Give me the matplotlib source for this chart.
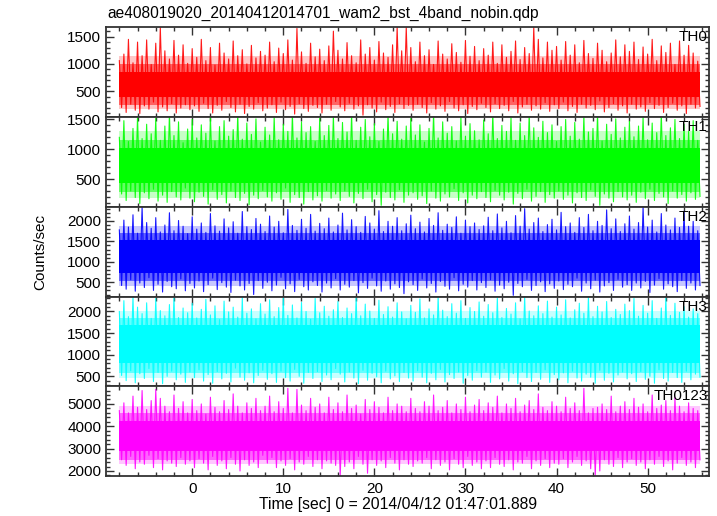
import numpy as np
import matplotlib
matplotlib.use("Agg")
import matplotlib.pyplot as plt
from matplotlib.ticker import MultipleLocator

plt.rcParams["font.family"] = ["Liberation Sans", "DejaVu Sans"]

# ---------------------------------------------------------------------------
# Data (0.5 s bins, upper / lower envelope)
# ---------------------------------------------------------------------------
TITLE = "ae408019020_20140412014701_wam2_bst_4band_nobin.qdp"
XLABEL = "Time [sec] 0 = 2014/04/12 01:47:01.889"
YLABEL = "Counts/sec"
T_START = -8.0
BIN = 0.5

labels = ["TH0", "TH1", "TH2", "TH3", "TH0123"]
colors = ["#ff0000", "#00ff00", "#0000ff", "#00ffff", "#ff00ff"]
ylims = [(25, 1670), (35, 1540), (150, 2345), (270, 2345), (1775, 5790)]
ymajor = [500, 500, 500, 500, 1000]
yminor = [100, 100, 100, 100, 200]
# solid part of the band, then the dense and the sparse part of the fringe
core = [(390, 860), (440, 1020), (720, 1530), (800, 1680), (2900, 4250)]
halo_in = [(250, 1000), (290, 1150), (520, 1700), (580, 1850), (2500, 4600)]
halo_out = [(170, 1150), (190, 1300), (400, 1880), (470, 2020), (2300, 4900)]

th0_hi = [
    1060, 1180, 1450, 1020, 1400, 1150, 1440, 990, 1380, 1670, 1240, 1090, 1430, 1160, 1350, 1010,
    1280, 1120, 1450, 1060, 1300, 980, 1380, 1200, 1090, 1420, 1150, 1260, 1000, 1340, 1110, 1230,
    1160, 1400, 1040, 1290, 1190, 1440, 1070, 1650, 1220, 1010, 1380, 1130, 1270, 1060, 1330, 1600,
    1250, 1090, 1390, 1150, 1020, 1440, 1180, 1300, 1070, 1410, 1200, 1120, 1350, 1670, 1240, 1670,
    1300, 1040, 1400, 1150, 1260, 990, 1420, 1180, 1090, 1370, 1210, 1030, 1430, 1140, 1320, 1060,
    1280, 1160, 1400, 1010, 1350, 1120, 1230, 1420, 1080, 1300, 1190, 1670, 1450, 1110, 1400, 1250,
    1320, 1070, 1410, 1160, 1350, 1020, 1430, 1190, 1100, 1380, 1250, 1040, 1200, 1440, 1130, 1350,
    1230, 1400, 1080, 1310, 1180, 1450, 1060, 1330, 1210, 1380, 990, 1420, 1160, 1340, 1200, 1050,
]
th0_lo = [
    200, 110, 260, 150, 90, 230, 170, 300, 120, 210, 140, 270, 100, 190, 250, 160,
    230, 130, 280, 180, 100, 240, 150, 310, 200, 120, 260, 90, 220, 170, 290, 140,
    190, 250, 110, 300, 160, 220, 80, 270, 180, 130, 240, 200, 100, 260, 150, 310,
    210, 140, 280, 170, 230, 60, 250, 190, 120, 300, 160, 220, 110, 270, 180, 240,
    150, 260, 200, 100, 290, 170, 230, 130, 310, 190, 140, 250, 90, 220, 160, 280,
    200, 120, 270, 180, 240, 140, 310, 100, 210, 260, 150, 230, 170, 290, 130, 250,
    180, 300, 140, 220, 110, 260, 190, 240, 160, 320, 120, 200, 270, 150, 230, 100,
    260, 170, 210, 130, 290, 180, 240, 110, 200, 280, 150, 230, 90, 260, 190, 220,
]
th1_hi = [
    1200, 1480, 1130, 1350, 1560, 1180, 1420, 1260, 1520, 1150, 1390, 1600, 1230, 1460, 1110, 1340,
    1500, 1190, 1410, 1270, 1560, 1140, 1380, 1480, 1220, 1330, 1600, 1170, 1440, 1250, 1510, 1120,
    1370, 1240, 1540, 1160, 1420, 1300, 1600, 1190, 1460, 1280, 1380, 1130, 1520, 1230, 1400, 1560,
    1180, 1450, 1290, 1600, 1150, 1370, 1500, 1210, 1430, 1130, 1340, 1580, 1260, 1470, 1170, 1390,
    1520, 1240, 1410, 1120, 1350, 1600, 1190, 1460, 1270, 1380, 1140, 1540, 1220, 1430, 1310, 1160,
    1490, 1260, 1600, 1180, 1400, 1300, 1530, 1150, 1440, 1230, 1600, 1360, 1200, 1470, 1280, 1410,
    1130, 1380, 1500, 1220, 1450, 1170, 1560, 1290, 1350, 1600, 1140, 1420, 1250, 1510, 1190, 1370,
    1470, 1210, 1390, 1540, 1160, 1440, 1280, 1600, 1230, 1360, 1500, 1180, 1420, 1300, 1480, 1150,
]
th1_lo = [
    250, 140, 300, 190, 90, 270, 170, 330, 130, 230, 110, 290, 200, 150, 350, 180,
    120, 280, 210, 80, 320, 160, 240, 100, 300, 190, 140, 260, 70, 230, 170, 310,
    200, 130, 270, 160, 350, 110, 240, 190, 80, 290, 150, 220, 130, 310, 180, 250,
    140, 300, 210, 100, 260, 170, 330, 120, 240, 60, 280, 190, 150, 320, 110, 230,
    270, 160, 220, 90, 300, 180, 130, 250, 200, 340, 140, 270, 100, 230, 170, 290,
    190, 120, 310, 230, 150, 280, 80, 260, 170, 330, 130, 210, 290, 110, 240, 180,
    300, 160, 230, 100, 270, 190, 140, 320, 210, 60, 250, 180, 120, 290, 200, 150,
    230, 110, 280, 170, 330, 140, 260, 200, 90, 300, 180, 240, 130, 270, 160, 210,
]
th2_hi = [
    1780, 2020, 1850, 2150, 1700, 2345, 1960, 1820, 2080, 1730, 1900, 2200, 1760, 2010, 1870, 1690,
    2100, 1800, 1950, 1720, 2180, 1880, 1750, 2050, 1830, 1980, 1700, 2230, 1860, 1790, 2060, 1920,
    1740, 2120, 1850, 1990, 1710, 2280, 1890, 1770, 2040, 1820, 2160, 1750, 1940, 1810, 2070, 1730,
    1900, 2190, 1780, 2030, 1860, 1720, 2110, 1950, 1800, 2250, 1740, 1990, 1870, 2080, 1760, 1930,
    2140, 1810, 1970, 1730, 2060, 1890, 2200, 1770, 1920, 1840, 2100, 1700, 2020, 1860, 1950, 1790,
    1880, 2090, 1760, 2170, 1830, 1990, 1710, 2130, 1870, 2300, 1800, 1960, 2070, 1740, 1910, 2040,
    1780, 2210, 1860, 1950, 1720, 2080, 1840, 2160, 1760, 1990, 1890, 2270, 1810, 2050, 1740, 1930,
    2120, 1800, 1960, 2345, 1850, 2020, 1730, 2180, 1900, 1780, 2070, 1840, 2240, 1870, 1990, 1760,
]
th2_lo = [
    420, 330, 560, 280, 480, 370, 610, 300, 450, 260, 520, 390, 340, 580, 290, 470,
    360, 530, 270, 440, 600, 320, 490, 380, 250, 550, 410, 310, 470, 200, 540, 350,
    500, 290, 430, 620, 340, 460, 270, 570, 390, 310, 510, 420, 260, 480, 360, 590,
    310, 450, 380, 540, 240, 490, 350, 600, 410, 280, 530, 330, 460, 370, 220, 510,
    440, 300, 580, 360, 470, 260, 520, 400, 330, 610, 290, 450, 380, 540, 310, 490,
    370, 560, 280, 430, 340, 500, 180, 470, 390, 570, 300, 420, 510, 270, 460, 350,
    530, 320, 450, 390, 600, 280, 480, 340, 550, 260, 410, 490, 300, 570, 380, 440,
    300, 480, 360, 520, 250, 430, 590, 330, 460, 390, 270, 540, 350, 480, 310, 420,
]
th3_hi = [
    2000, 2250, 1880, 2345, 2100, 1950, 2200, 1840, 2300, 2020, 1900, 2160, 2345, 1860, 2080, 1970,
    2190, 1850, 2050, 2280, 1920, 2130, 1810, 2240, 1990, 2100, 1870, 2320, 1960, 2060, 1830, 2180,
    1940, 2270, 1880, 2090, 2345, 1910, 2150, 1850, 2210, 2000, 1820, 2300, 1970, 2120, 1890, 2040,
    2230, 1860, 2080, 1950, 2345, 1900, 2170, 2010, 1840, 2260, 1930, 2110, 1870, 2200, 1990, 1830,
    2140, 1980, 2290, 1850, 2060, 1920, 2345, 2030, 1880, 2180, 1960, 2250, 1840, 2090, 2000, 2220,
    1890, 2160, 1970, 2310, 1860, 2070, 1940, 2200, 1830, 2345, 2010, 1900, 2130, 1950, 2240, 1870,
    2100, 1920, 2270, 1850, 2040, 2190, 1960, 2345, 1880, 2120, 1990, 2230, 1860, 2050, 1930, 2170,
    2020, 2300, 1890, 2140, 1960, 2250, 1840, 2080, 2345, 1910, 2190, 1980, 2110, 1870, 2060, 1950,
]
th3_lo = [
    520, 400, 630, 350, 560, 450, 680, 380, 590, 330, 500, 620, 420, 550, 360, 600,
    470, 650, 390, 540, 340, 610, 440, 570, 370, 690, 480, 410, 580, 350, 520, 640,
    430, 560, 360, 620, 470, 390, 660, 500, 340, 590, 450, 610, 380, 530, 420, 680,
    550, 370, 600, 460, 330, 640, 410, 570, 490, 350, 620, 440, 510, 380, 590, 460,
    390, 630, 480, 350, 570, 420, 660, 370, 540, 450, 600, 340, 520, 410, 630, 480,
    600, 360, 530, 440, 680, 390, 560, 330, 610, 470, 380, 590, 430, 650, 360, 540,
    420, 580, 350, 620, 460, 390, 550, 480, 340, 640, 410, 570, 370, 530, 600, 440,
    560, 380, 610, 430, 500, 340, 650, 450, 390, 590, 470, 360, 620, 420, 550, 480,
]
th0123_hi = [
    4700, 5050, 4600, 5350, 4850, 5600, 4750, 5150, 5650, 5250, 4900, 4650, 5400, 4800, 5100, 4600,
    5200, 4700, 5000, 4550, 5300, 4850, 4650, 5150, 4750, 5450, 4900, 4600, 5050, 4800, 5250, 4700,
    4900, 5350, 4650, 5100, 4800, 5700, 4600, 5650, 4950, 4700, 5250, 4850, 5000, 4600, 5300, 4750,
    5050, 4650, 5400, 4800, 4950, 4550, 5200, 4750, 5100, 4850, 4600, 5300, 4700, 5000, 4900, 4650,
    5250, 4800, 4650, 5100, 4900, 5400, 4700, 4850, 5150, 4600, 5000, 4750, 5300, 4650, 4950, 5200,
    4700, 5050, 4850, 5350, 4600, 5000, 4800, 5250, 4650, 4950, 5150, 4750, 5450, 4850, 4700, 5100,
    4900, 4650, 5300, 4800, 5050, 4700, 5700, 4600, 4800, 4850, 5000, 4750, 5350, 4650, 4900, 5100,
    4750, 5250, 4850, 5000, 4650, 5400, 4800, 4950, 5150, 4700, 5300, 4900, 4650, 5050, 4800, 4700,
]
th0123_lo = [
    2500, 2250, 2650, 2100, 2400, 2300, 2700, 2150, 2550, 2050, 2450, 2350, 2200, 2600, 2300, 2450,
    2150, 2550, 2350, 2050, 2650, 2250, 2450, 2100, 2600, 2300, 2000, 2500, 2250, 2400, 2150, 2700,
    2350, 2600, 2150, 2450, 2250, 2550, 2050, 2400, 2300, 2650, 2200, 2500, 2100, 2450, 2350, 2250,
    1800, 2200, 2400, 2100, 2650, 2300, 1900, 2500, 2250, 2450, 2150, 2600, 2350, 2050, 2500, 2300,
    2200, 2450, 2350, 2600, 2100, 2500, 2250, 2400, 2050, 2550, 2300, 2150, 2650, 2250, 2400, 2100,
    2450, 2150, 2600, 2300, 2200, 2500, 2050, 2400, 2350, 2650, 2100, 2450, 2250, 2550, 2150, 2350,
    2300, 2550, 2150, 2400, 2650, 2250, 2450, 2100, 1800, 2000, 2500, 2300, 2200, 2600, 2150, 2400,
    2550, 2250, 2400, 2100, 2500, 2300, 2650, 2200, 2450, 2050, 2350, 2600, 2250, 2400, 2150, 2500,
]

highs = [th0_hi, th1_hi, th2_hi, th3_hi, th0123_hi]
lows = [th0_lo, th1_lo, th2_lo, th3_lo, th0123_lo]

# ---------------------------------------------------------------------------
# Plot
# ---------------------------------------------------------------------------
fig, axes = plt.subplots(5, 1, figsize=(7.17, 5.16), dpi=100, sharex=True)
fig.subplots_adjust(left=0.148, right=0.989, top=0.947, bottom=0.0775, hspace=0)

for i, ax in enumerate(axes):
    col = colors[i]
    hi = np.asarray(highs[i], dtype=float)
    lo = np.asarray(lows[i], dtype=float)
    t_hi = T_START + BIN * np.arange(len(hi))
    t_lo = t_hi + BIN / 2
    x = np.column_stack([t_hi, t_lo]).ravel()
    y = np.column_stack([hi, lo]).ravel()
    span = [x[0], x[-1]]

    ax.fill_between(span, *halo_out[i], color=col, lw=0, alpha=0.22)
    ax.fill_between(span, *halo_in[i], color=col, lw=0, alpha=0.5)
    ax.fill_between(span, *core[i], color=col, lw=0)
    ax.plot(x, y, color=col, lw=0.8, alpha=0.9)

    ax.set_ylim(*ylims[i])
    ax.set_xlim(-9.45, 56.75)
    ax.yaxis.set_major_locator(MultipleLocator(ymajor[i]))
    ax.yaxis.set_minor_locator(MultipleLocator(yminor[i]))
    ax.xaxis.set_major_locator(MultipleLocator(10))
    ax.xaxis.set_minor_locator(MultipleLocator(2))
    ax.tick_params(which="both", direction="in", top=True, right=True,
                   labelsize=11, width=1.0, color="#333333")
    ax.tick_params(which="major", length=6)
    ax.tick_params(which="minor", length=3)
    for sp in ax.spines.values():
        sp.set_linewidth(1.3)
        sp.set_color("#333333")
    ax.text(0.998, 0.965, labels[i], transform=ax.transAxes, ha="right", va="top",
            fontsize=11)

axes[-1].tick_params(axis="x", pad=4)
fig.text(398 / 717, 1 - 509 / 516, XLABEL, ha="center", va="baseline", fontsize=11.3)
fig.text(0.056, 0.512, YLABEL, rotation=90, ha="center", va="center", fontsize=11)
fig.text(107 / 717, 1 - 13 / 516, TITLE, ha="left", va="center", fontsize=11.2)

fig.savefig("out.png", dpi=100)
